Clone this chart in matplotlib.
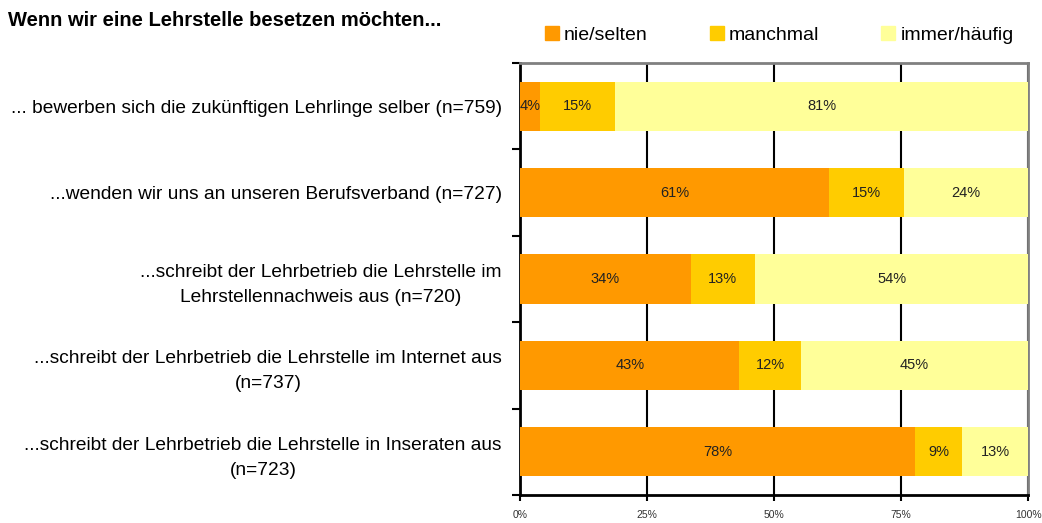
import matplotlib
matplotlib.use("Agg")
import matplotlib.pyplot as plt
import numpy as np

categories = [
    "... bewerben sich die zukünftigen Lehrlinge selber (n=759)",
    "...wenden wir uns an unseren Berufsverband (n=727)",
    "...schreibt der Lehrbetrieb die Lehrstelle im\nLehrstellennachweis aus (n=720)",
    "...schreibt der Lehrbetrieb die Lehrstelle im Internet aus\n(n=737)",
    "...schreibt der Lehrbetrieb die Lehrstelle in Inseraten aus\n(n=723)",
]
series_names = ["nie/selten", "manchmal", "immer/häufig"]
nie_selten = [3.9, 60.8, 33.6, 43.2, 77.8]
manchmal = [14.8, 14.8, 12.7, 12.1, 9.2]
immer_haeufig = [81.3, 24.4, 53.7, 44.7, 13.0]
colors = ["#FF9900", "#FFCC00", "#FFFF99"]
x_ticks = [0, 25, 50, 75, 100]
x_ticklabels = ["0%", "25%", "50%", "75%", "100%"]
title = "Wenn wir eine Lehrstelle besetzen möchten..."

plt.rcParams['font.family'] = ['Liberation Sans', 'DejaVu Sans']

fig = plt.figure(figsize=(10.42, 5.23), dpi=100)
ax = fig.add_axes([0.499, 0.0535, 0.4876, 0.826])

y = np.arange(len(categories))
left = np.zeros(len(categories))
for vals, name, col in zip([nie_selten, manchmal, immer_haeufig], series_names, colors):
    vals = np.array(vals)
    ax.barh(y, vals, left=left, height=0.57, color=col, label=name, zorder=3)
    for yi, (l, v) in enumerate(zip(left, vals)):
        ax.text(l + v / 2, yi, f"{v:.0f}%", ha="center", va="center",
                fontsize=10.5, color="#222222", zorder=4)
    left += vals

ax.set_xlim(0, 100)
ax.set_ylim(len(categories) - 0.5, -0.5)
ax.set_xticks(x_ticks)
ax.set_xticklabels(x_ticklabels, fontsize=7.5, color="#333333")
ax.xaxis.grid(True, color="black", linewidth=1.5, zorder=1)
ax.set_axisbelow(True)
ax.tick_params(axis="x", length=4, width=1.5, direction="out", pad=7)

ax.set_yticks(np.arange(len(categories) + 1) - 0.5)
ax.set_yticklabels([])
ax.set_yticks(y, minor=True)
ax.set_yticklabels(categories, minor=True, fontsize=13.8, multialignment="center",
                   linespacing=1.6)
ax.tick_params(axis="y", which="major", length=6, width=1.5, direction="out")
ax.tick_params(axis="y", which="minor", length=0, pad=13)

for s in ["left", "bottom"]:
    ax.spines[s].set_color("black")
    ax.spines[s].set_linewidth(2)
for s in ["top", "right"]:
    ax.spines[s].set_color("#808080")
    ax.spines[s].set_linewidth(2)

fig.text(0.008, 0.96, title, fontsize=14.5, fontweight="bold", ha="left", va="center")

handles = [plt.Rectangle((0, 0), 1, 1, color=c) for c in colors]
fig.legend(handles, series_names, loc="center left", bbox_to_anchor=(0.506, 0.933),
           ncol=3, frameon=False, fontsize=14, handlelength=0.72, handleheight=0.72,
           columnspacing=3.2, handletextpad=0.26)

fig.savefig("out.png", dpi=100)
